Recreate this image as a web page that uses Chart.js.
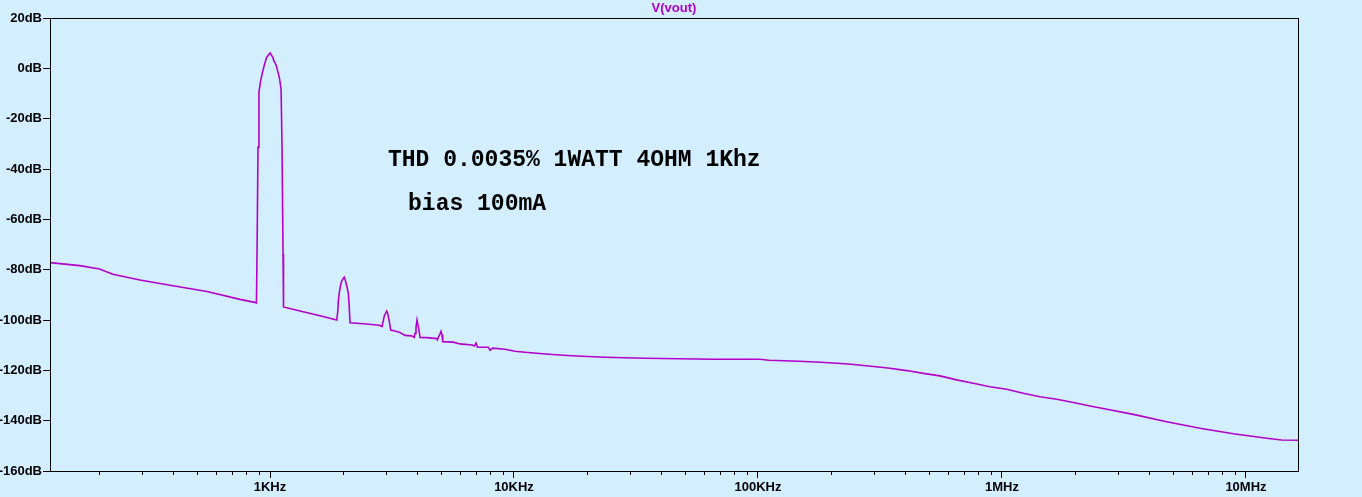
<!DOCTYPE html>
<html>
<head>
<meta charset="utf-8">
<title>V(vout)</title>
<script src="https://cdn.jsdelivr.net/npm/chart.js@4/dist/chart.umd.min.js"></script>
<style>
  html, body { margin: 0; padding: 0; background: #D2EEFF; overflow: hidden; }
  #wrap { width: 1362px; height: 497px; }
</style>
</head>
<body>
<div id="wrap"><canvas id="fft" width="1362" height="497"></canvas></div>
<script>
// FFT of V(vout)
const freqHz = [
  125, 166, 200, 227, 293, 400, 552, 753, 876,
  880, 885, 893, 901, 913, 921, 930, 939, 948, 956, 966, 979, 991, 1003,
  1012, 1026, 1038, 1051, 1065, 1075, 1086, 1096, 1110, 1120, 1131, 1136,
  1327, 1603, 1877,
  1895, 1905, 1923, 1941, 1960, 1978, 1997, 2016, 2035, 2054, 2074, 2094, 2108, 2128,
  2490, 2805, 2877,
  2913, 2940, 2980, 3008, 3036, 3065, 3094, 3123,
  3253, 3410, 3575, 3808, 3903,
  3929, 3966, 4004, 4042, 4080, 4119,
  4387, 4823, 4851,
  4897, 4976, 5023, 5071, 5104,
  5640, 6007, 6729, 6888, 6987, 7087, 7847, 7973, 8178, 9186,
  10095, 11095, 12388, 13913, 15922, 18944, 23605, 34430, 65590, 101900,
  110950, 147200, 181200, 210800, 240500, 264300, 290400, 319200, 347500,
  406800, 475900, 557000, 652000, 762800, 892900, 1045000, 1223000, 1431000,
  1676000, 1960000, 2295000, 2627000, 3452000, 4732000, 6478000, 8873000,
  12160000, 14000000, 16380000
];
const levelDb = [
  -77.2, -78.4, -79.7, -81.8, -84.1, -86.4, -88.7, -91.8, -93.1,
  -93.2, -72.6, -31.3, -9.4, -5.8, -3.8, -1.9, -0.3, 1.3, 2.5, 4.1, 4.9, 5.7, 6.1,
  5.3, 4.5, 2.9, 2.1, 0.5, -1.1, -2.6, -4.6, -8.2, -30.9, -73.8, -94.8,
  -96.4, -98.3, -100.0,
  -96.7, -92.7, -89.1, -86.8, -85.0, -84.1, -83.4, -83.0, -84.1, -85.8, -87.4, -89.4, -93.3, -101.1,
  -101.6, -102.1, -102.6,
  -100.3, -98.4, -97.3, -96.5, -97.3, -99.3, -101.3, -104.0,
  -104.4, -105.0, -106.1, -106.3, -106.9,
  -105.3, -103.0, -100.0, -102.0, -104.0, -106.9,
  -107.0, -107.4, -107.9,
  -106.9, -105.5, -104.5, -105.9, -108.6,
  -108.8, -109.5, -109.9, -110.3, -109.2, -110.8, -110.8, -112.0, -111.2, -111.6,
  -112.4, -112.8, -113.2, -113.6, -114.0, -114.4, -114.8, -115.2, -115.6, -115.6,
  -116.0, -116.4, -116.8, -117.2, -117.6, -118.0, -118.4, -118.8, -119.2,
  -120.1, -121.2, -122.2, -123.8, -125.1, -126.5, -127.5, -129.1, -130.5,
  -131.5, -132.8, -134.2, -135.3, -137.5, -140.4, -143.0, -145.2,
  -147.0, -147.7, -147.8
];

const majorTicks = [1e3, 1e4, 1e5, 1e6, 1e7];
const tickLabels = ["1KHz", "10KHz", "100KHz", "1MHz", "10MHz"];
const minorSteps = [2, 3, 4, 5, 6, 7, 8, 9];
const decades = [1e2, 1e3, 1e4, 1e5, 1e6, 1e7];

const xMin = 125.4;
const xMax = 16340000;

const notes = [
  { text: "THD 0.0035% 1WATT 4OHM 1Khz", f: 3045, db: -38.8 },
  { text: "bias 100mA", f: 3679, db: -56.3 },
];

const TRACE = "#B400C8";
const AXIS_FONT = { family: "'Liberation Sans', Arial, sans-serif", size: 13, weight: "bold" };

const minorTicks = [];
decades.forEach((d) => {
  minorSteps.forEach((m) => {
    const v = d * m;
    if (v > xMin && v < xMax) minorTicks.push(v);
  });
});

const framePlugin = {
  id: "frame",
  afterDraw(chart) {
    const { ctx, chartArea: a } = chart;
    const xs = chart.scales.x;
    const ys = chart.scales.y;
    ctx.save();
    ctx.strokeStyle = "#000";
    ctx.lineWidth = 1;
    ctx.strokeRect(a.left + 0.5, a.top + 0.5, a.right - a.left, a.bottom - a.top);

    // short minor ticks under the x axis
    ctx.beginPath();
    minorTicks.forEach((v) => {
      const px = Math.round(xs.getPixelForValue(v)) + 0.5;
      ctx.moveTo(px, a.bottom);
      ctx.lineTo(px, a.bottom + 4);
    });
    ctx.stroke();

    ctx.fillStyle = "#000";
    ctx.font = "bold 23px 'Liberation Mono', 'Courier New', monospace";
    ctx.textBaseline = "alphabetic";
    notes.forEach((n) => {
      ctx.fillText(n.text, xs.getPixelForValue(n.f), ys.getPixelForValue(n.db));
    });
    ctx.restore();
  },
};

new Chart(document.getElementById("fft"), {
  type: "line",
  data: {
    datasets: [
      {
        label: "V(vout)",
        data: freqHz.map((f, i) => ({ x: f, y: levelDb[i] })),
        borderColor: TRACE,
        borderWidth: 1.6,
        pointRadius: 0,
        tension: 0,
        fill: false,
      },
    ],
  },
  options: {
    responsive: false,
    animation: false,
    layout: { padding: { left: 0, right: 64, top: 0, bottom: 0 } },
    plugins: {
      legend: { display: false },
      tooltip: { enabled: false },
      title: {
        display: true,
        text: "V(vout)",
        color: TRACE,
        fullSize: false,
        font: { family: "'Liberation Sans', Arial, sans-serif", size: 13, weight: "bold" },
        padding: { top: 1, bottom: 1.4 },
      },
    },
    scales: {
      x: {
        type: "logarithmic",
        min: xMin,
        max: xMax,
        afterBuildTicks: (scale) => {
          scale.ticks = majorTicks.map((v) => ({ value: v }));
        },
        afterFit: (scale) => {
          scale.height = 26;
        },
        ticks: {
          autoSkip: false,
          maxRotation: 0,
          color: "#000",
          font: AXIS_FONT,
          padding: 2,
          callback: (value) => {
            const i = majorTicks.indexOf(value);
            return i >= 0 ? tickLabels[i] : "";
          },
        },
        grid: { drawOnChartArea: false, tickLength: 7, tickColor: "#000" },
        border: { color: "#000", width: 1 },
      },
      y: {
        type: "linear",
        min: -160,
        max: 20,
        afterFit: (scale) => {
          scale.width = 50;
        },
        ticks: {
          stepSize: 20,
          color: "#000",
          font: AXIS_FONT,
          padding: 1,
          callback: (v) => `${v}dB`,
        },
        grid: { drawOnChartArea: false, tickLength: 7, tickColor: "#000" },
        border: { color: "#000", width: 1 },
      },
    },
  },
  plugins: [framePlugin],
});
</script>
</body>
</html>
